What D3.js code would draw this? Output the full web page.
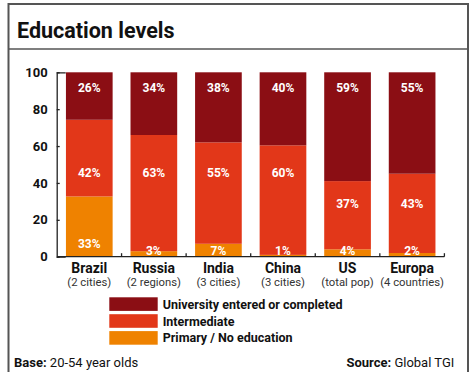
<!DOCTYPE html>
<html>
<head>
<meta charset="utf-8">
<script src="https://cdn.jsdelivr.net/npm/d3@7"></script>
<style>
  body { margin: 0; background: #fff; }
  text { font-family: Roboto, "Noto Sans", sans-serif; }
</style>
</head>
<body>
<svg id="chart" width="470" height="372"></svg>
<script>
// Education level shares (%) by market
const regions = ["Brazil", "Russia", "India", "China", "US", "Europa"];
const samples = ["(2 cities)", "(2 regions)", "(3 cities)", "(3 cities)", "(total pop)", "(4 countries)"];
const primary = [33, 3, 7, 1, 4, 2];
const intermediate = [42, 63, 55, 60, 37, 43];
const university = [26, 34, 38, 40, 59, 55];
const levelKeys = ["primary", "intermediate", "university"];
const levelNames = ["Primary / No education", "Intermediate", "University entered or completed"];
const levelColors = ["#ef8200", "#e23719", "#8b0e14"];
const yTicks = [0, 20, 40, 60, 80, 100];

const rows = regions.map((r, i) => ({
  region: r, sample: samples[i],
  primary: primary[i], intermediate: intermediate[i], university: university[i]
}));

const svg = d3.select("#chart");

// frame and title
svg.append("rect").attr("x", 8.5).attr("y", 4).attr("width", 459.5).attr("height", 400)
  .attr("fill", "none").attr("stroke", "#555").attr("stroke-width", 2);
svg.append("line").attr("x1", 8).attr("x2", 468).attr("y1", 49).attr("y2", 49)
  .attr("stroke", "#555").attr("stroke-width", 1.5);
svg.append("text").attr("x", 17).attr("y", 38).attr("font-size", 21.5).attr("font-weight", 700)
  .attr("fill", "#111").text("Education levels");

// scales
const x = d3.scaleBand().domain(regions).range([57, 444.4]).paddingInner(0.277).paddingOuter(0.1385);
const y = d3.scaleLinear().domain([0, 100]).range([256.7, 72.3]);
const color = d3.scaleOrdinal().domain(levelKeys).range(levelColors);

// each bar is shown as shares of its own total
const series = d3.stack().keys(levelKeys).offset(d3.stackOffsetExpand)(rows);

const g = svg.append("g");
g.selectAll("g.layer").data(series).join("g").attr("class", "layer")
  .attr("fill", d => color(d.key))
  .selectAll("rect").data(d => d).join("rect")
  .attr("x", d => x(d.data.region))
  .attr("width", x.bandwidth())
  .attr("y", d => y(d[1] * 100))
  .attr("height", d => y(d[0] * 100) - y(d[1] * 100));

// value labels
const labels = svg.append("g").attr("fill", "#fff").attr("font-size", 12).attr("font-weight", 700)
  .attr("text-anchor", "middle");
series.forEach(layer => {
  layer.forEach(d => {
    const cx = x(d.data.region) + x.bandwidth() / 2;
    let cy;
    if (layer.key === "university") cy = y(d[1] * 100) + 15.5;
    else if (layer.key === "intermediate") cy = d[1] > 0.5 ? y(45.5) : y(29);
    else cy = d[1] > 0.2 ? y(7.3) : y(3.2);
    labels.append("text").attr("x", cx).attr("y", cy).attr("dy", "0.36em")
      .text(d.data[layer.key] + "%");
  });
});

// y axis with inward ticks
const yAxis = d3.axisLeft(y).tickValues(yTicks).tickSizeInner(-3).tickSizeOuter(-9).tickPadding(9);
const ya = svg.append("g").attr("transform", "translate(56.7,0)").call(yAxis);
ya.select(".domain").attr("stroke", "#222").attr("stroke-width", 1.3);
ya.selectAll(".tick line").attr("stroke", "#222").attr("stroke-width", 1.3);
ya.selectAll(".tick text").attr("font-size", 13).attr("font-weight", 700).attr("fill", "#111")
  .attr("font-family", "Roboto, sans-serif");

// x axis: baseline with short upward ticks at band boundaries
const x0 = x.range()[0], x1 = x.range()[1];
svg.append("line").attr("x1", x0).attr("x2", x1).attr("y1", y(0)).attr("y2", y(0))
  .attr("stroke", "#222").attr("stroke-width", 1.3);
svg.append("g").selectAll("line").data(d3.range(1, regions.length + 1)).join("line")
  .attr("x1", i => x0 + i * x.step()).attr("x2", i => x0 + i * x.step())
  .attr("y1", y(0)).attr("y2", y(0) - 3.5)
  .attr("stroke", "#222").attr("stroke-width", 1.3);

const xa = svg.append("g").attr("text-anchor", "middle");
rows.forEach(r => {
  const cx = x(r.region) + x.bandwidth() / 2;
  xa.append("text").attr("x", cx).attr("y", 273).attr("font-size", 14).attr("font-weight", 700)
    .attr("fill", "#111").text(r.region);
  xa.append("text").attr("x", cx).attr("y", 286).attr("font-size", 11.3)
    .attr("fill", "#333").text(r.sample);
});

// legend (top to bottom: university, intermediate, primary)
const legendOrder = [2, 1, 0];
const lg = svg.append("g");
legendOrder.forEach((k, j) => {
  const ly = 297.3 + j * 16.9;
  lg.append("rect").attr("x", 109.3).attr("y", ly).attr("width", 48.4).attr("height", 13.6)
    .attr("fill", levelColors[k]);
  lg.append("text").attr("x", 162.7).attr("y", ly + 6.8).attr("dy", "0.36em")
    .attr("font-size", 12.5).attr("font-weight", 700).attr("fill", "#111").text(levelNames[k]);
});

// footer
const base = svg.append("text").attr("x", 14).attr("y", 366.5).attr("font-size", 13).attr("fill", "#111");
base.append("tspan").attr("font-weight", 700).text("Base:");
base.append("tspan").text(" 20-54 year olds");
const src = svg.append("text").attr("x", 454.3).attr("y", 366.5).attr("font-size", 13)
  .attr("text-anchor", "end").attr("fill", "#111");
src.append("tspan").attr("font-weight", 700).text("Source:");
src.append("tspan").text(" Global TGI");
</script>
</body>
</html>
